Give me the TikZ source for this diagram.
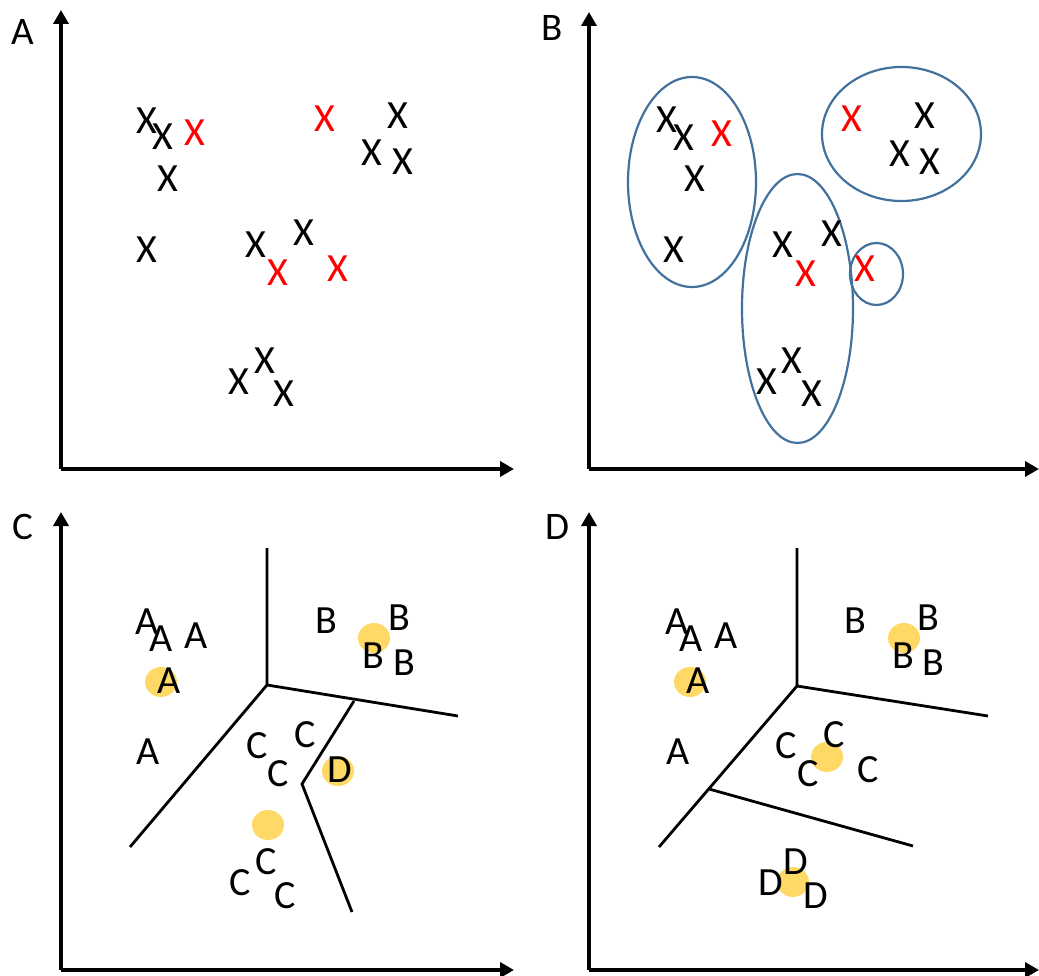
\documentclass[tikz,border=0pt]{standalone}
\usepackage{fontspec}
\setmainfont{Carlito}
\usetikzlibrary{arrows.meta}
\definecolor{clblue}{HTML}{41719C}
\definecolor{cgold}{HTML}{FFD966}
\definecolor{cred}{HTML}{FF0000}
\tikzset{
  axis/.style={line width=4pt,-{Triangle[length=14pt,width=15pt]}},
  pt/.style={inner sep=0pt,font=\fontsize{40}{40}\selectfont},
  panel/.style={inner sep=0pt,font=\fontsize{39}{39}\selectfont},
  bound/.style={line width=2.8pt},
  clus/.style={draw=clblue,line width=2.2pt},
  cent/.style={fill=cgold},
}
\begin{document}
\begin{tikzpicture}[x=1pt,y=-1pt]
\useasboundingbox (0,0) rectangle (1039,976);
% ---------- Panel A ----------
\node[panel] (lA) at (23,32) {A};
\coordinate (oA) at (61,469);
\coordinate (yA) at (61,10);
\coordinate (xA) at (514,469);
\draw[axis] (oA) -- (yA);
\draw[axis] (oA) -- (xA);
\foreach \x/\y/\c [count=\i] in {147/121/black,163/137/black,195/133/cred,168/179/black,147/250/black,325/119/cred,398/116/black,372/153/black,403/162/black,256/245/black,304/233/black,278/273/cred,338/269/cred,265/361/black,239/382/black,284/394/black}
  \node[pt,text=\c] (pA\i) at (\x,\y) {X};
% ---------- Panel B ----------
\node[panel] (lB) at (552,28) {B};
\coordinate (oB) at (589,469);
\coordinate (yB) at (589,12);
\coordinate (xB) at (1039,469);
\draw[axis] (oB) -- (yB);
\draw[axis] (oB) -- (xB);
\draw[clus] (692,182) ellipse [x radius=64,y radius=105];
\draw[clus] (901.5,134) ellipse [x radius=79.5,y radius=67];
\draw[clus] (797.5,308.5) ellipse [x radius=55.5,y radius=134.5];
\draw[clus] (876.5,274) ellipse [x radius=26.5,y radius=31];
\foreach \x/\y/\c [count=\i] in {667/120/black,684/138/black,722/134/cred,695/179/black,674/250/black,852/119/cred,925/116/black,900/154/black,930/162/black,783/245/black,832/234/black,806/274/cred,865/269/cred,792/361/black,767/382/black,812/394/black}
  \node[pt,text=\c] (pB\i) at (\x,\y) {X};
% ---------- Panel C ----------
\node[panel] (lC) at (23,527) {C};
\coordinate (oC) at (61,970);
\coordinate (yC) at (61,512);
\coordinate (xC) at (514,970);
\draw[axis] (oC) -- (yC);
\draw[axis] (oC) -- (xC);
\coordinate (c0) at (267,685);
\coordinate (c1) at (267,548);
\coordinate (c2) at (458,716);
\coordinate (c3) at (130,847);
\coordinate (c4) at (354,701);
\coordinate (c5) at (302,784);
\coordinate (c6) at (352,912);
\draw[bound] (c1) -- (c0) -- (c2);
\draw[bound] (c0) -- (c3);
\draw[bound] (c4) -- (c5) -- (c6);
\fill[cent] (161,682) ellipse [x radius=16,y radius=15];
\fill[cent] (374,638) ellipse [x radius=16,y radius=15];
\fill[cent] (338,771) ellipse [x radius=16,y radius=15];
\fill[cent] (268,825) ellipse [x radius=16,y radius=15];
\foreach \x/\y/\t [count=\i] in {147/622/A,161/639/A,196/636/A,169/681/A,148/752/A,326/621/B,399/618/B,373/656/B,404/663/B,257/746/C,305/735/C,278/774/C,340/770/D,266/862/C,240/883/C,285/896/C}
  \node[pt] (pC\i) at (\x,\y) {\t};
% ---------- Panel D ----------
\node[panel] (lD) at (557,527) {D};
\coordinate (oD) at (589,970);
\coordinate (yD) at (589,512);
\coordinate (xD) at (1039,970);
\draw[axis] (oD) -- (yD);
\draw[axis] (oD) -- (xD);
\coordinate (d0) at (797,686);
\coordinate (d1) at (797,548);
\coordinate (d2) at (988,716);
\coordinate (d3) at (659,847);
\coordinate (d4) at (709,789);
\coordinate (d5) at (913,846);
\draw[bound] (d1) -- (d0) -- (d2);
\draw[bound] (d0) -- (d3);
\draw[bound] (d4) -- (d5);
\fill[cent] (690,682) ellipse [x radius=16,y radius=15];
\fill[cent] (904,638) ellipse [x radius=16,y radius=15];
\fill[cent] (827,757) ellipse [x radius=16,y radius=15];
\fill[cent] (793,882) ellipse [x radius=16,y radius=15];
\foreach \x/\y/\t [count=\i] in {677/622/A,691/639/A,726/636/A,698/681/A,678/752/A,855/621/B,928/618/B,903/656/B,933/663/B,786/746/C,834/735/C,808/774/C,868/770/C,796/862/D,771/883/D,816/896/D}
  \node[pt] (pD\i) at (\x,\y) {\t};
\end{tikzpicture}
\end{document}
